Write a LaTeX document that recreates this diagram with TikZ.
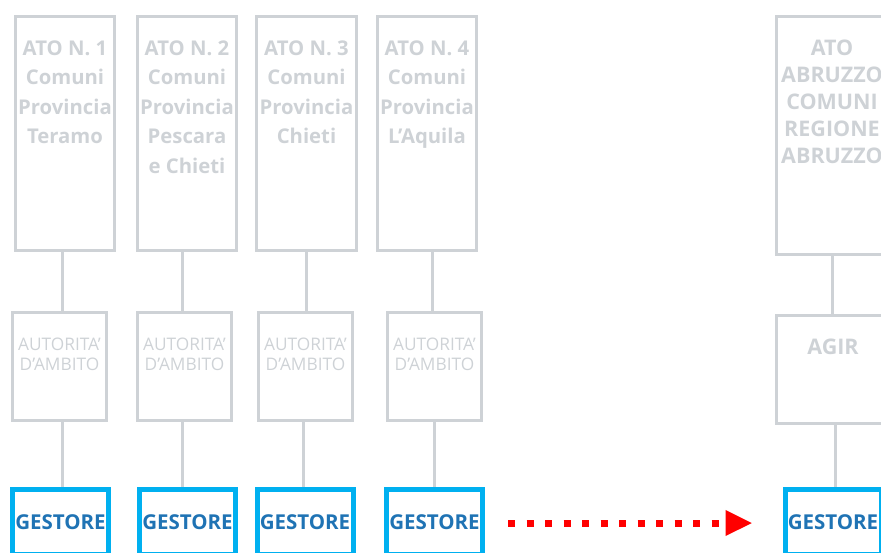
\documentclass[tikz,border=0pt]{standalone}
\usepackage{fontspec}
\setmainfont{Open Sans}
\usepackage{tikz}
\usetikzlibrary{arrows.meta}
\usetikzlibrary{calc, positioning}
\usepackage{color}

\definecolor{boxgray}{RGB}{206,210,214}
\definecolor{gestcyan}{RGB}{0,176,240}
\definecolor{gestblue}{RGB}{31,115,180}

\begin{document}
\begin{tikzpicture}[
    x=1pt, y=-1pt,
    atobox/.style={draw=boxgray, line width=3pt, minimum width=99pt, minimum height=234pt, inner sep=0pt},
    autbox/.style={draw=boxgray, line width=3pt, minimum width=94pt, minimum height=108pt, inner sep=0pt},
    gestbox/.style={draw=gestcyan, line width=5pt, minimum width=96pt, minimum height=65pt, inner sep=0pt,
        text=gestblue, font=\bfseries\fontsize{20.5}{22}\selectfont},
    atotext/.style={text=boxgray, align=center, inner sep=0pt, font=\bfseries\fontsize{20.3}{29.5}\selectfont},
    auttext/.style={text=boxgray, align=center, inner sep=0pt, font=\fontsize{17.3}{20}\selectfont},
    link/.style={draw=boxgray, line width=3pt},
    flow/.style={draw=red, line width=7pt, dash pattern=on 7pt off 11.5pt, -{Triangle[length=27pt, width=24pt]}}
]

\useasboundingbox (0,0) rectangle (881,552);
\clip (0,0) rectangle (881,552);

% ATO boxes
\node[atobox] (ato1) at (65,133.5) {};
\node[atobox] (ato2) at (187,133.5) {};
\node[atobox, minimum width=100pt] (ato3) at (306.5,133.5) {};
\node[atobox] (ato4) at (427,133.5) {};
\node[atobox, minimum width=112pt, minimum height=238pt] (ato5) at (832,135.5) {};

\node[atotext, below=25.5pt of ato1.north] (ato1txt) {ATO N. 1\\Comuni\\Provincia\\Teramo};
\node[atotext, below=25.5pt of ato2.north] (ato2txt) {ATO N. 2\\Comuni\\Provincia\\Pescara\\e Chieti};
\node[atotext, below=25.5pt of ato3.north] (ato3txt) {ATO N. 3\\Comuni\\Provincia\\Chieti};
\node[atotext, below=25.5pt of ato4.north] (ato4txt) {ATO N. 4\\Comuni\\Provincia\\L’Aquila};
\node[atotext, below=25pt of ato5.north, font=\bfseries\fontsize{21.5}{27}\selectfont] (ato5txt) {ATO\\ABRUZZO\\COMUNI\\REGIONE\\ABRUZZO};

% Autorita' d'ambito boxes
\node[autbox] (aut1) at (59.5,366.5) {};
\node[autbox] (aut2) at (184.5,366.5) {};
\node[autbox] (aut3) at (305.5,366.5) {};
\node[autbox] (aut4) at (434.5,366.5) {};
\node[autbox, minimum width=114pt] (agir) at (833,369.5) {};

\node[auttext, below=26.5pt of aut1.north] (aut1txt) {AUTORITA’\\D’AMBITO};
\node[auttext, below=26.5pt of aut2.north] (aut2txt) {AUTORITA’\\D’AMBITO};
\node[auttext, below=26.5pt of aut3.north] (aut3txt) {AUTORITA’\\D’AMBITO};
\node[auttext, below=26.5pt of aut4.north] (aut4txt) {AUTORITA’\\D’AMBITO};
\node[atotext, below=25pt of agir.north, font=\bfseries\fontsize{21.5}{27}\selectfont] (agirtxt) {AGIR};

% Gestore boxes
\node[gestbox] (gest1) at (60.5,522) {GESTORE};
\node[gestbox] (gest2) at (187.5,522) {GESTORE};
\node[gestbox] (gest3) at (305,522) {GESTORE};
\node[gestbox] (gest4) at (434.5,522) {GESTORE};
\node[gestbox] (gest5) at (833,522) {GESTORE};

% Links
\draw[link] ([xshift=-3pt]ato1.south) -- ([xshift=-3pt]ato1.south |- aut1.north);
\draw[link] ([xshift=-5pt]ato2.south) -- ([xshift=-5pt]ato2.south |- aut2.north);
\draw[link] (ato3.south) -- (ato3.south |- aut3.north);
\draw[link] ([xshift=5pt]ato4.south) -- ([xshift=5pt]ato4.south |- aut4.north);
\draw[link] (ato5.south) -- (ato5.south |- agir.north);

\draw[link] ([xshift=2.5pt]aut1.south) -- ([xshift=2.5pt]aut1.south |- gest1.north);
\draw[link] ([xshift=-2.5pt]aut2.south) -- ([xshift=-2.5pt]aut2.south |- gest2.north);
\draw[link] ([xshift=-2.5pt]aut3.south) -- ([xshift=-2.5pt]aut3.south |- gest3.north);
\draw[link] (aut4.south) -- (aut4.south |- gest4.north);
\draw[link] ([xshift=2pt]agir.south) -- ([xshift=2pt]agir.south |- gest5.north);

% Passage to the single gestore
\draw[flow] ([xshift=23pt,yshift=-1pt]gest4.east) -- ([xshift=-30pt,yshift=-1pt]gest5.west);

\end{tikzpicture}
\end{document}
